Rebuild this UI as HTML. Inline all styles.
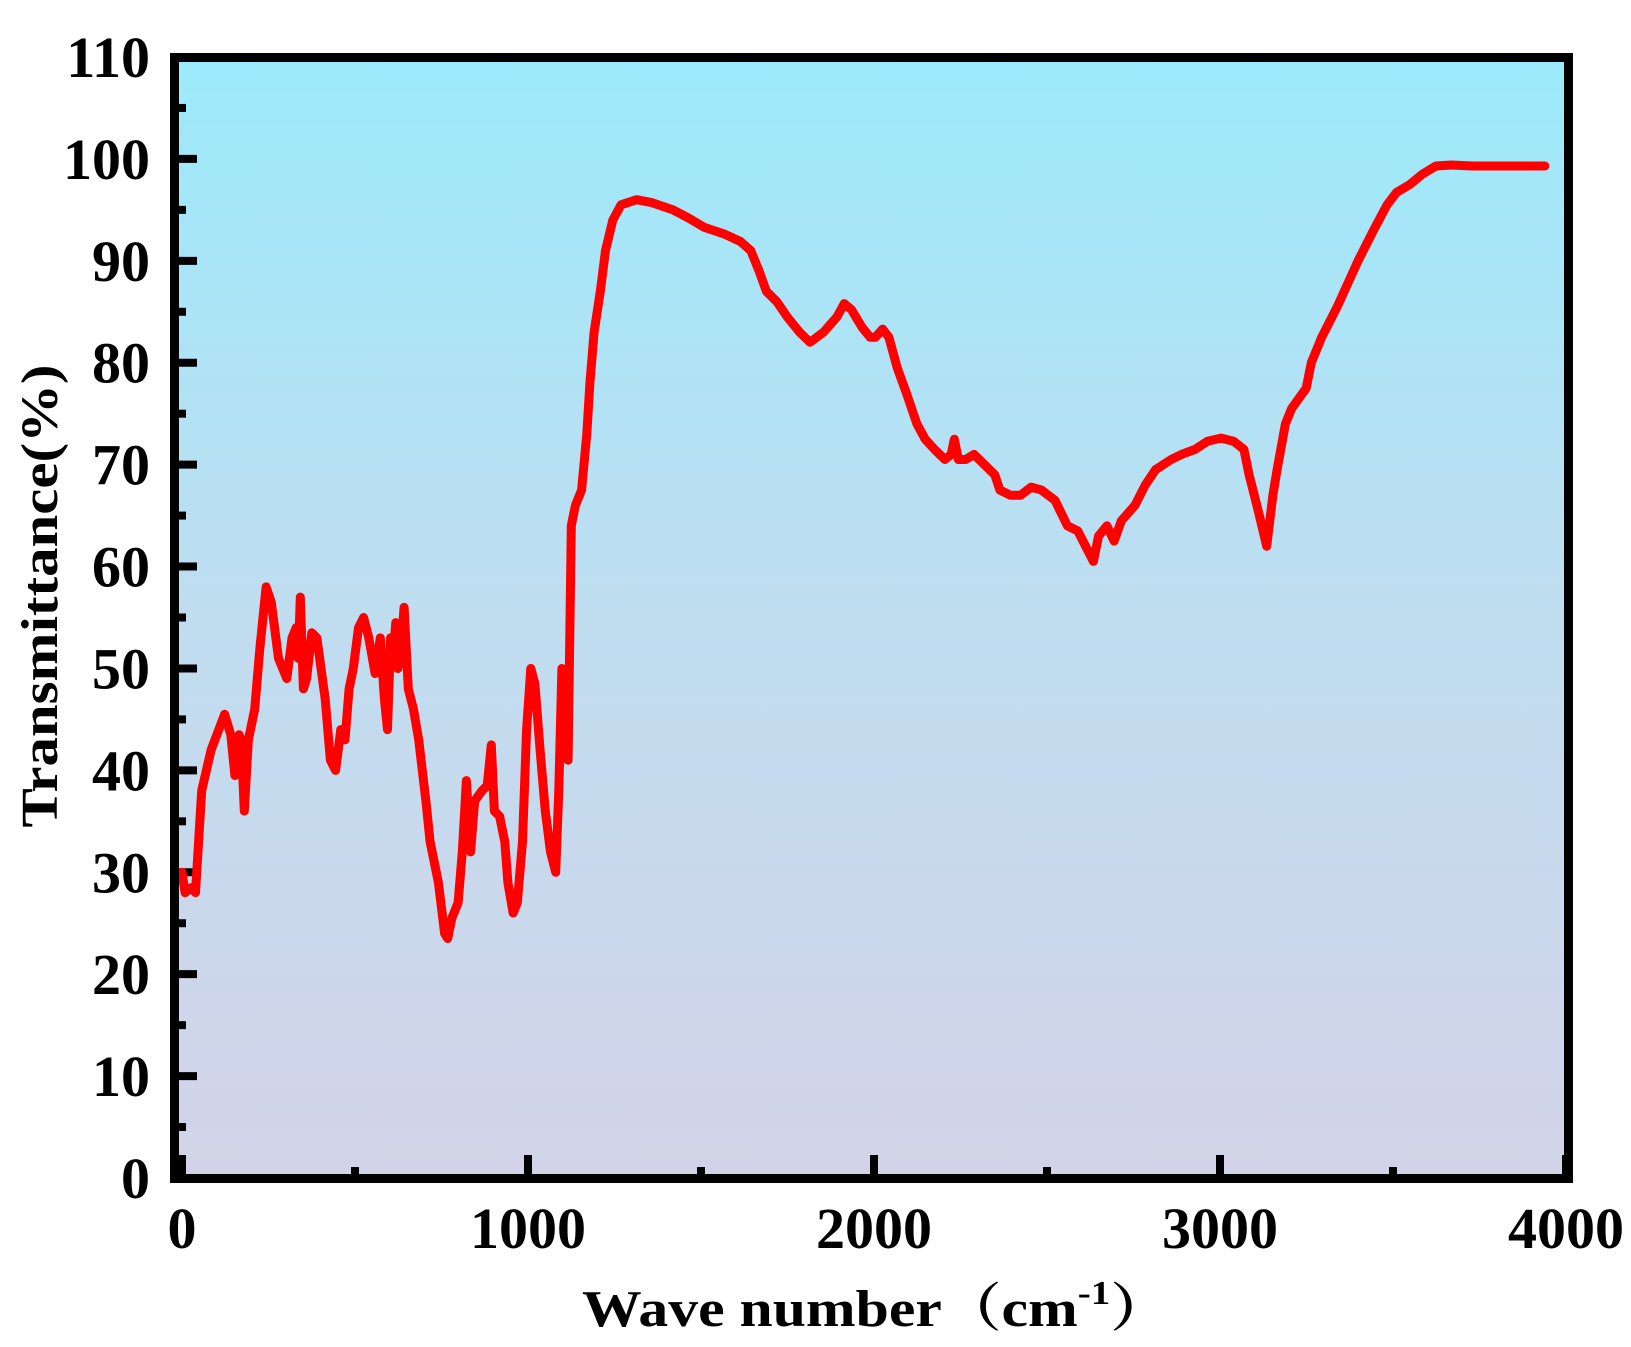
<!DOCTYPE html>
<html><head><meta charset="utf-8"><style>
html,body{margin:0;padding:0;background:#fff;}
svg{display:block;}
text{font-family:"Liberation Serif","Noto Serif CJK SC",serif;font-weight:bold;fill:#000;}
</style></head><body>
<svg id="chart" width="1631" height="1347" viewBox="0 0 1631 1347" xmlns="http://www.w3.org/2000/svg">
<defs><linearGradient id="bg" x1="0" y1="0" x2="0" y2="1"><stop offset="0" stop-color="#9BEAFB"/><stop offset="0.5" stop-color="#C0DDF0"/><stop offset="1" stop-color="#D3D3E8"/></linearGradient></defs>
<rect x="174" y="57" width="1394" height="1121" fill="url(#bg)"/>
<g id="ticks"></g>
<path id="series" fill="none" stroke="#FF0000" stroke-width="9" stroke-linejoin="round" stroke-linecap="round"/>
<rect x="174.5" y="57.5" width="1394" height="1121" fill="none" stroke="#000" stroke-width="9"/>
<text transform="translate(57,596) rotate(-90)" text-anchor="middle" font-size="52" textLength="463" lengthAdjust="spacingAndGlyphs">Transmittance(%)</text>
<text x="582" y="1326" font-size="52" textLength="588" lengthAdjust="spacingAndGlyphs">Wave number（cm<tspan font-size="34" dy="-22">-1</tspan><tspan dy="22">）</tspan></text>
</svg>
<script>
const wavenumbers=[0,9,27,39,57,84,123,141,153,165,171,180,192,210,225,243,258,279,303,318,330,336,342,351,360,375,390,414,429,444,459,471,483,495,510,525,540,558,573,585,594,603,612,618,624,633,642,654,669,684,705,717,741,759,768,780,798,810,822,834,846,867,882,894,903,918,933,942,957,969,984,996,1008,1020,1035,1050,1065,1080,1089,1098,1110,1116,1125,1137,1155,1170,1179,1191,1209,1224,1245,1269,1314,1359,1419,1464,1509,1569,1614,1644,1668,1689,1719,1749,1785,1815,1854,1893,1914,1935,1965,1989,2004,2025,2043,2067,2094,2124,2148,2175,2205,2223,2232,2244,2265,2289,2319,2349,2364,2394,2424,2454,2484,2523,2559,2589,2634,2649,2673,2694,2715,2754,2784,2814,2859,2889,2928,2964,3003,3039,3069,3084,3099,3114,3135,3153,3165,3189,3207,3228,3249,3264,3294,3339,3399,3444,3483,3510,3549,3585,3624,3669,3729,3939];
const transmittance=[30,28,28.5,28,38,42,45.5,43.5,39.5,43.5,43,36,43,46,52,58,56.5,51,49,53,54,51,57,48,49,53.5,53,47,41,40,44,43,48,50,54,55,53,49.5,53,47,44,53,52,54.5,50,52,56,48,46,43,37,33,29,24,23.5,25.5,27,32,39,32,37,38,38.5,42.5,36,35.5,33,29,26,27,33,44,50,48.5,42,36,32,30,38,50,42,41,64,66,67.5,73,78,83,87,91,94,95.5,96,95.7,95,94.2,93.3,92.6,91.9,91,89,87,86,84.5,83,82,83,84.5,85.8,85.2,83.5,82.5,82.5,83.3,82.5,79.5,77,74,72.5,71.5,70.5,71,72.5,70.5,70.5,71,70,69,67.5,67,67,67.8,67.5,66.5,64,63.5,60.5,63,64,62.5,64.5,66,68,69.5,70.5,71,71.5,72.3,72.6,72.3,71.5,69,67,65,62,67,69.5,74,75.5,76.5,77.5,80,82.5,85.5,90,93,95.5,96.7,97.5,98.5,99.3,99.4,99.3,99.3];
const yTicks=[0,10,20,30,40,50,60,70,80,90,100,110];
const xTicks=[0,1000,2000,3000,4000];
const NS="http://www.w3.org/2000/svg";
function xs(v){return 182+v*0.346;}
function ys(v){return 1178-v*(1121/110);}
const svg=document.getElementById('chart');
const tg=document.getElementById('ticks');
let d='';
for(let i=0;i<wavenumbers.length;i++){d+=(i?'L':'M')+xs(wavenumbers[i]).toFixed(1)+','+ys(transmittance[i]).toFixed(1);}
document.getElementById('series').setAttribute('d',d);
function line(x1,y1,x2,y2,name){const l=document.createElementNS(NS,'line');l.setAttribute('x1',x1);l.setAttribute('y1',y1);l.setAttribute('x2',x2);l.setAttribute('y2',y2);l.setAttribute('stroke','#000');l.setAttribute('stroke-width','8');


tg.appendChild(l);}
function label(x,y,txt,anchor,name){const t=document.createElementNS(NS,'text');t.setAttribute('x',x);t.setAttribute('y',y);t.setAttribute('font-size','58');t.setAttribute('text-anchor',anchor);t.textContent=txt;


svg.appendChild(t);}
for(let v=0;v<=110;v+=5){const y=ys(v);const major=v%10===0;line(178,y,major?197:186,y,'y-tick');}
yTicks.forEach(v=>label(150,ys(v)+20,String(v),'end','y-tick-label'));
for(let v=0;v<=4000;v+=500){const x=xs(v);const major=v%1000===0;line(x,1174,x,major?1155:1167,'x-tick');}
xTicks.forEach(v=>label(xs(v),1248,String(v),'middle','x-tick-label'));
</script>
</body></html>
